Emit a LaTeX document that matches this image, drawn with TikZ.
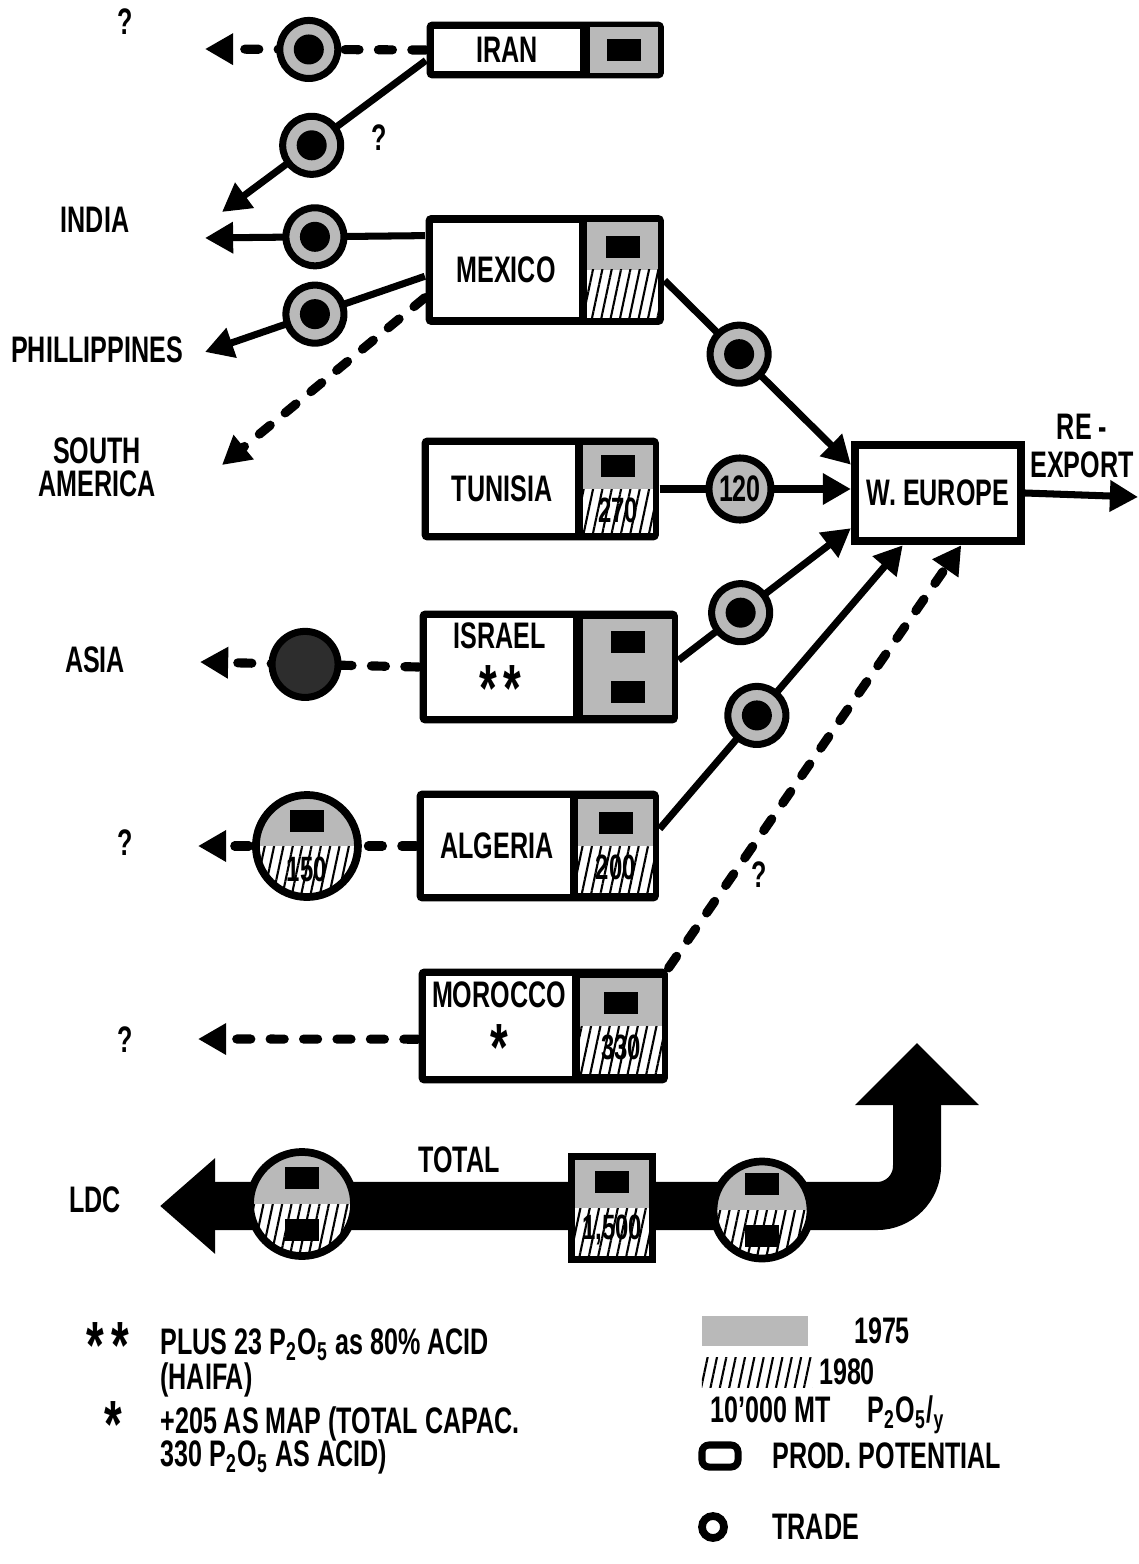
\documentclass[tikz,border=0pt]{standalone}
\usepackage{fontspec}
\setmainfont{Liberation Sans}[FakeStretch=0.68]
\usetikzlibrary{arrows.meta, positioning, fit, backgrounds, patterns.meta}

\newcommand{\numblob}{\rule[-1pt]{0.34cm}{0.22cm}}
\newcommand{\bigast}{\raisebox{-6pt}{\fontsize{19}{19}\selectfont *}}

\tikzset{
  half/.style={path picture={
      \fill[gray!55] (path picture bounding box.north west) rectangle (path picture bounding box.east);
      \fill[pattern={Lines[angle=78, distance=2.6pt, line width=0.6pt]}]
        (path picture bounding box.west) rectangle (path picture bounding box.south east);}},
}

\begin{document}
\begin{tikzpicture}[x=0.01cm, y=-0.01cm,
    every node/.style={font=\bfseries\fontsize{10.5}{12}\selectfont},
    lbl/.style={rectangle, draw, line width=0.8pt, fill=white, minimum width=1.48cm, align=center, inner sep=1pt},
    qty/.style={rectangle, fill=gray!55, minimum width=0.68cm, align=center, inner sep=1pt, font=\bfseries\fontsize{10}{14}\selectfont},
    split/.style={fill=white, half},
    frame/.style={rectangle, fill=black, inner sep=0.05cm, rounded corners=1.5pt},
    hub/.style={rectangle, draw, line width=2.4pt, minimum width=1.55cm, minimum height=0.96cm},
    dest/.style={align=center, font=\bfseries\fontsize{10.5}{9.5}\selectfont},
    trade/.style={circle, draw, solid, line width=2pt, fill=gray!55, minimum size=0.58cm, inner sep=0pt,
      path picture={\fill[black] (path picture bounding box.center) circle (0.15cm);}},
    tradeval/.style={circle, draw, solid, line width=2pt, fill=gray!55, minimum size=0.62cm, inner sep=0pt},
    darktrade/.style={circle, draw, solid, line width=2pt, fill=gray!35!black, minimum size=0.66cm, inner sep=0pt},
    bigtrade/.style={circle, draw, solid, line width=2.2pt, split, minimum size=1cm, inner sep=0pt, align=center,
      font=\bfseries\fontsize{10}{15}\selectfont},
    flow/.style={line width=2pt, -{Triangle[length=8pt, width=8.5pt]}},
    dflow/.style={flow, line width=2.6pt, line cap=round, dash pattern=on 4pt off 5.5pt},
    band/.style={line width=0.48cm, rounded corners=0.4cm,
      {Triangle[length=0.62cm, width=1.2cm]}-{Triangle[length=0.55cm, width=0.92cm]}},
  ]
  \useasboundingbox (0,0) rectangle (1138,1564);

  % producers: name part + quantity part (1975 top, 1980 bottom)
  \node[lbl, minimum height=0.44cm] (iranlbl) at (507,50) {IRAN};
  \node[qty, minimum height=0.45cm, right=0.07cm of iranlbl] (iranq) {\numblob};

  \node[lbl, minimum height=0.97cm] (mexicolbl) at (506,270) {MEXICO};
  \node[qty, split, minimum height=0.96cm, minimum width=0.71cm, right=0.05cm of mexicolbl] (mexicoq) {\numblob\\\mbox{}};

  \node[lbl, minimum height=0.9cm] (tunisialbl) at (502,489) {TUNISIA};
  \node[qty, split, minimum height=0.88cm, minimum width=0.7cm, right=0.05cm of tunisialbl] (tunisiaq) {\numblob\\270};

  \node[lbl, minimum height=1cm] (israellbl) at (500,667) {ISRAEL\\\bigast\,\bigast};
  \node[qty, minimum height=0.95cm, minimum width=0.89cm, right=0.07cm of israellbl] (israelq) {\numblob\\\numblob};

  \node[lbl, minimum height=0.98cm] (algerialbl) at (497,846) {ALGERIA};
  \node[qty, split, minimum height=0.93cm, minimum width=0.75cm, right=0.05cm of algerialbl] (algeriaq) {\numblob\\200};

  \node[lbl, minimum height=1.02cm] (moroccolbl) at (499,1026) {MOROCCO\\\bigast};
  \node[qty, split, minimum height=0.95cm, minimum width=0.82cm, right=0.05cm of moroccolbl] (moroccoq) {\numblob\\330};

  \begin{scope}[on background layer]
    \node[frame, fit=(iranlbl)(iranq)] (iran) {};
    \node[frame, fit=(mexicolbl)(mexicoq)] (mexico) {};
    \node[frame, fit=(tunisialbl)(tunisiaq)] (tunisia) {};
    \node[frame, fit=(israellbl)(israelq)] (israel) {};
    \node[frame, fit=(algerialbl)(algeriaq)] (algeria) {};
    \node[frame, fit=(moroccolbl)(moroccoq)] (morocco) {};
  \end{scope}

  \node[hub] (weu) at (938,493) {W. EUROPE};

  % destinations
  \node (qiran) at (125,22) {?};
  \node (india) at (95,220) {INDIA};
  \node (phil) at (97,350) {PHILLIPPINES};
  \node[dest] (sam) at (97,467) {SOUTH\\AMERICA};
  \node (asia) at (95,660) {ASIA};
  \node (qalg) at (125,843) {?};
  \node (qmor) at (125,1040) {?};
  \node (ldc) at (95,1200) {LDC};
  \node[dest, font=\bfseries\fontsize{10.5}{11}\selectfont] (reexp) at (1082,446) {RE -\\EXPORT};

  \coordinate (toqiran) at (205,49);
  \coordinate (toindia1) at (222,212);
  \coordinate (toindia2) at (205,238);
  \coordinate (tophil) at (205,352);
  \coordinate (tosam) at (222,465);
  \coordinate (toasia) at (200,662);
  \coordinate (toqalg) at (198,846);
  \coordinate (toqmor) at (198,1039);
  \coordinate (toreexp) at (1138,497);

  % trade flows
  \draw[dflow] (iran.west) -- node[trade, pos=0.53] (t1) {} (toqiran);
  \draw[flow] (iran.185) -- node[trade, pos=0.56, label={[xshift=0.12cm, yshift=0.08cm]right:?}] (t2) {} (toindia1);
  \draw[flow] (mexico.164) -- node[trade, pos=0.5] (t3) {} (toindia2);
  \draw[flow] (mexico.183) -- node[trade, pos=0.5] (t4) {} (tophil);
  \draw[dflow] (mexico.193) -- (tosam);
  \draw[flow] (mexico.355) -- node[trade, pos=0.4] (t5) {} (weu.162);
  \draw[flow] (tunisia.east) -- node[tradeval, pos=0.42] (t6) {120} (tunisia.east -| weu.west);
  \draw[flow] (israel.3) -- node[trade, pos=0.36] (t7) {} (weu.202);
  \draw[flow] (algeria.8) -- node[trade, pos=0.4] (t8) {} (weu.236);
  \draw[dflow] (morocco.north east) -- node[pos=0.22, right=0.02cm] (qweu) {?} (weu.294);
  \draw[dflow] (israel.west) -- node[darktrade, pos=0.52] (t9) {} (toasia);
  \draw[dflow] (algeria.west) -- node[bigtrade, minimum size=1.02cm, pos=0.5] (t10) {\numblob\\150} (toqalg);
  \draw[dflow] (morocco.186) -- (toqmor);
  \draw[flow] (weu.east) -- (toreexp);

  % total
  \coordinate (uptip) at (917,1043);
  \coordinate (ldctip) at (160,1206);
  \draw[band] (uptip) |- (ldctip);
  \node (total) at (459,1160) {TOTAL};
  \node[bigtrade, minimum size=1.04cm] (totl) at (302,1204) {\numblob\\\numblob};
  \node[qty, split, draw, line width=0.07cm, minimum width=0.8cm, minimum height=1.02cm] (totq) at (612,1208) {\numblob\\1,500};
  \node[bigtrade, minimum size=0.97cm] (totr) at (762,1210) {\numblob\\\numblob};

  % notes
  \node (ast2) at (108,1345) {\bigast\ \bigast};
  \node[anchor=west] (note2) at (148,1345) {PLUS 23 P\textsubscript{2}O\textsubscript{5} as 80\% ACID};
  \node[anchor=west] (note2b) at (148,1380) {(HAIFA)};
  \node (ast1) at (113,1424) {\bigast};
  \node[anchor=west] (note1) at (148,1424) {+205 AS MAP (TOTAL CAPAC.};
  \node[anchor=west] (note1b) at (148,1457) {330 P\textsubscript{2}O\textsubscript{5} AS ACID)};

  % key
  \node[fill=gray!55, minimum width=1.05cm, minimum height=0.3cm, inner sep=0pt] (sw1975) at (755,1331) {};
  \node (y1975) at (882,1331) {1975};
  \node[pattern={Lines[angle=78, distance=2.6pt, line width=0.6pt]}, minimum width=1.1cm, minimum height=0.3cm, inner sep=0pt] (sw1980) at (757,1372) {};
  \node (y1980) at (847,1372) {1980};
  \node[anchor=west] (unit) at (698,1415) {10'000 MT\quad P\textsubscript{2}O\textsubscript{5}/\textsubscript{y}};
  \node[draw, line width=2pt, rounded corners=2pt, minimum width=0.36cm, minimum height=0.22cm, inner sep=0pt] (keybox) at (720,1456) {};
  \node[anchor=west] (keyboxt) at (760,1456) {PROD. POTENTIAL};
  \node[circle, draw, line width=2.2pt, minimum size=0.22cm, inner sep=0pt] (keycirc) at (713,1527) {};
  \node[anchor=west] (keycirct) at (760,1527) {TRADE};
\end{tikzpicture}
\end{document}
